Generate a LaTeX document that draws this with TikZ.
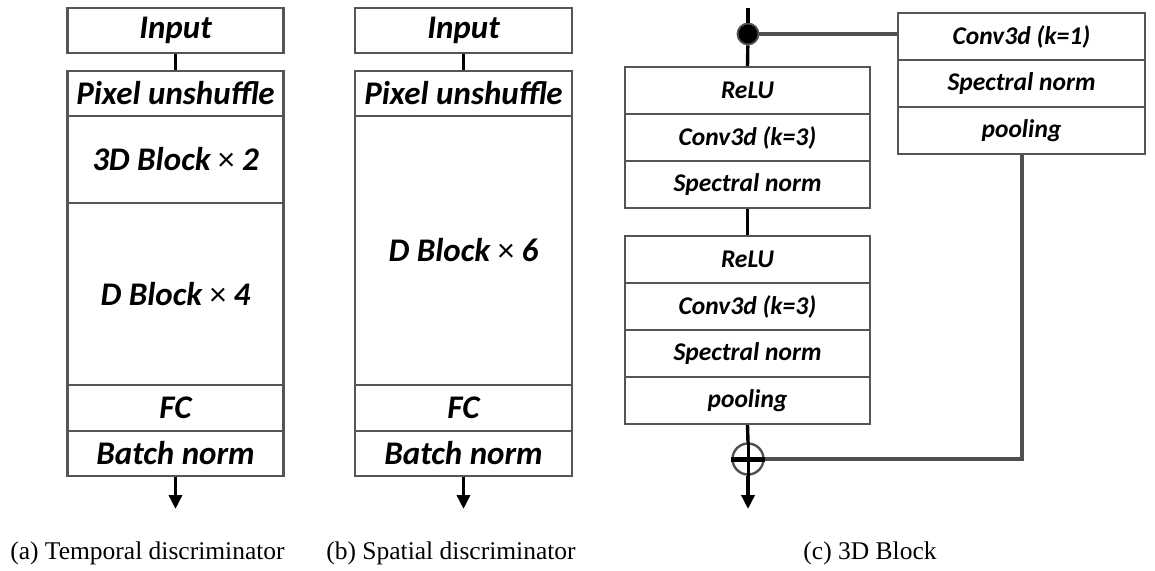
\documentclass[tikz,border=0pt]{standalone}
\usepackage{fontspec}
\setmainfont{Carlito}
\newfontfamily\capfont{Liberation Serif}
\usetikzlibrary{arrows.meta}
\definecolor{boxgray}{HTML}{555555}
\definecolor{linegray}{HTML}{505050}
\newcommand{\mytimes}{{\mdseries\upshape ×}}
\begin{document}
\begin{tikzpicture}[x=1pt,y=-1pt,
  blk/.style={draw=boxgray, line width=2.2pt, rectangle, inner sep=0pt, align=center,
    font=\fontsize{33}{38}\selectfont\bfseries\itshape},
  blkc/.style={draw=boxgray, line width=2.2pt, rectangle, inner sep=0pt, align=center,
    minimum width=245, minimum height=47,
    font=\fontsize{25.5}{30}\selectfont\bfseries\itshape},
  conn/.style={line width=3.4pt, black},
  branch/.style={line width=3.4pt, linegray},
  outarrow/.style={line width=3.4pt, black, -{Triangle[width=13pt,length=14pt]}},
  caption/.style={font=\fontsize{25.5}{29}\selectfont\capfont, inner sep=0pt}
]
\useasboundingbox (0,0) rectangle (1155,570);
\fill[white] (0,0) rectangle (1155,570);

% ---------- (a) ----------
\node[blk, minimum width=216, minimum height=45] (inA) at (175.5,30.5) {Input};
\node[blk, minimum width=216, minimum height=45] (puA) at (175.5,93.5) {Pixel unshuffle};
\node[blk, minimum width=216, minimum height=87] (b3A) at (175.5,159.5) {3D Block \mytimes\ 2};
\node[blk, minimum width=216, minimum height=182] (dbA) at (175.5,294) {D Block \mytimes\ 4};
\node[blk, minimum width=216, minimum height=46] (fcA) at (175.5,408) {FC};
\node[blk, minimum width=216, minimum height=45] (bnA) at (175.5,453.5) {Batch norm};
\coordinate (outA) at (175.5,509);
\draw[conn] (inA.south) -- (puA.north);
\draw[outarrow] (bnA.south) -- (outA);

% ---------- (b) ----------
\node[blk, minimum width=217, minimum height=45] (inB) at (463.5,30.5) {Input};
\node[blk, minimum width=217, minimum height=45] (puB) at (463.5,93.5) {Pixel unshuffle};
\node[blk, minimum width=217, minimum height=269] (dbB) at (463.5,250.5) {D Block \mytimes\ 6};
\node[blk, minimum width=217, minimum height=46] (fcB) at (463.5,408) {FC};
\node[blk, minimum width=217, minimum height=45] (bnB) at (463.5,453.5) {Batch norm};
\coordinate (outB) at (463.5,509);
\draw[conn] (inB.south) -- (puB.north);
\draw[outarrow] (bnB.south) -- (outB);

% ---------- (c) ----------
\coordinate (topC) at (748,8);
\node[circle, fill=black, draw=linegray, line width=1.8pt, minimum size=21, inner sep=0pt] (dot) at (748,34) {};
\node[blkc] (r1) at (747.5,90.5) {ReLU};
\node[blkc] (c1) at (747.5,137.5) {Conv3d (k=3)};
\node[blkc] (s1) at (747.5,184.5) {Spectral norm};
\node[blkc] (r2) at (747.5,259.5) {ReLU};
\node[blkc] (c2) at (747.5,306.5) {Conv3d (k=3)};
\node[blkc] (s2) at (747.5,353.5) {Spectral norm};
\node[blkc] (p2) at (747.5,400.5) {pooling};
\node[blkc, minimum width=247] (ck) at (1021.5,36.5) {Conv3d (k=1)};
\node[blkc, minimum width=247] (sk) at (1021.5,83.5) {Spectral norm};
\node[blkc, minimum width=247] (pk) at (1021.5,130.5) {pooling};
\node[circle, draw=linegray, line width=2.4pt, minimum size=31, inner sep=0pt] (plus) at (748,459) {};
\coordinate (corner) at (1022,459);
\coordinate (outC) at (748,509);

\draw[conn] (topC) -- (dot);
\draw[conn] (dot) -- (r1.north);
\draw[conn] (s1.south) -- (r2.north);
\draw[conn] (p2.south) -- (plus.north);
\draw[branch] (dot.east) -- (dot.east -| ck.west);
\draw[branch] (pk.south -| corner) -- (corner) -- (plus.east);
\draw[line width=5pt, black] (plus.west) -- (plus.east);
\draw[line width=3pt, black] (plus.north) -- (plus.south);
\draw[outarrow] (plus.south) -- (outC);

% ---------- captions ----------
\node[caption] (capA) at (147.5,553) {(a) Temporal discriminator};
\node[caption] (capB) at (451,553) {(b) Spatial discriminator};
\node[caption] (capC) at (870,553) {(c) 3D Block};
\end{tikzpicture}
\end{document}
